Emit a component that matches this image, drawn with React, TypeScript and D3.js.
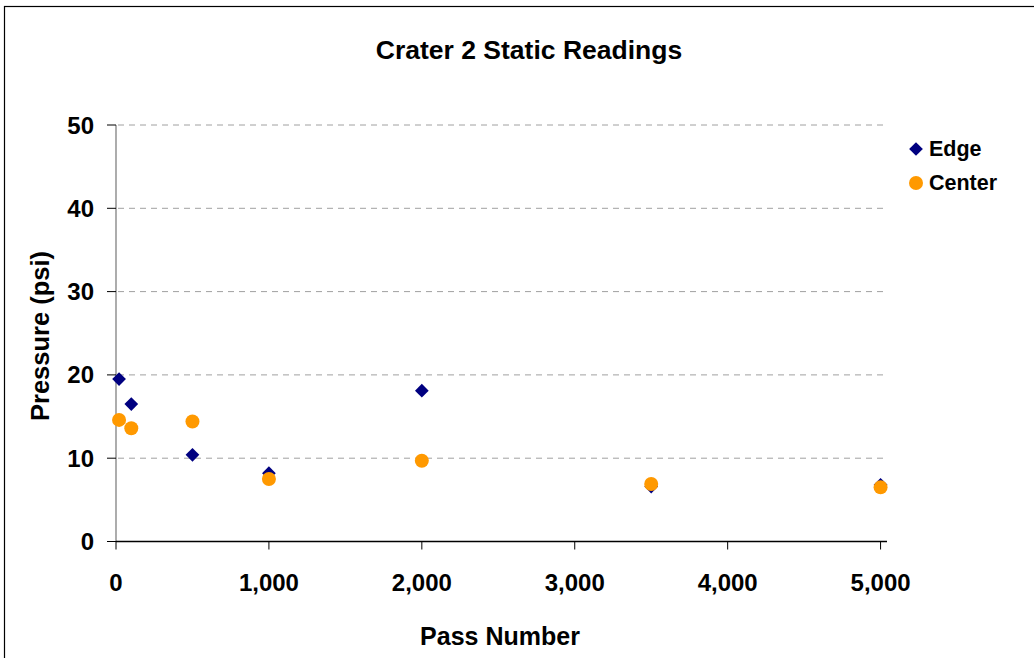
import React from "react";
import * as d3 from "d3";

const passNumbers = [20, 100, 500, 1000, 2000, 3500, 5000];
const edgeValues = [19.5, 16.5, 10.4, 8.2, 18.1, 6.6, 6.8];
const centerValues = [14.6, 13.6, 14.4, 7.5, 9.7, 6.9, 6.5];
const xTicks = [0, 1000, 2000, 3000, 4000, 5000];
const yTicks = [0, 10, 20, 30, 40, 50];
const seriesNames = ["Edge", "Center"];
const seriesColors = ["#000080", "#FF9900"];

const W = 1034;
const H = 658;
const FONT = "'Liberation Sans', Arial, sans-serif";

export default function App() {
  const xMax = 5042;
  const x = d3.scaleLinear().domain([0, xMax]).range([116, 887]);
  const y = d3.scaleLinear().domain([0, 50]).range([541.5, 125]);
  const fmt = d3.format(",");
  const diamond = d3.symbol().type(d3.symbolDiamond2).size(120)();
  const circleR = 7;

  return (
    <svg width={W} height={H} style={{ position: "absolute", left: 0, top: 0, background: "#fff" }} fontFamily={FONT}>
      <rect x={0} y={0} width={W} height={H} fill="#fff" />
      <rect x={4.5} y={6.5} width={W + 20} height={H + 20} fill="none" stroke="#000" strokeWidth={1.2} />
      <text x={529} y={59} textAnchor="middle" fontSize={26.5} fontWeight="bold">Crater 2 Static Readings</text>

      {yTicks.filter(t => t > 0).map(t => (
        <line key={"g" + t} x1={x(0) + 2} x2={x(xMax)} y1={y(t)} y2={y(t)} stroke="#a0a0a0" strokeDasharray="6,5" strokeWidth={1} />
      ))}

      <line x1={x(0)} x2={x(0)} y1={y(50)} y2={y(0)} stroke="#808080" strokeWidth={1.3} />
      {yTicks.map(t => (
        <g key={"y" + t}>
          <line x1={x(0) - 9} x2={x(0)} y1={y(t)} y2={y(t)} stroke="#000" strokeWidth={1} />
          <text x={94} y={y(t) + 8.5} textAnchor="end" fontSize={24} fontWeight="bold">{t}</text>
        </g>
      ))}

      <line x1={x(0)} x2={x(xMax)} y1={y(0)} y2={y(0)} stroke="#000" strokeWidth={1.3} />
      {xTicks.map(t => (
        <g key={"x" + t}>
          <line x1={x(t)} x2={x(t)} y1={y(0)} y2={y(0) + 8} stroke="#000" strokeWidth={1} />
          <text x={x(t)} y={591} textAnchor="middle" fontSize={24} fontWeight="bold">{fmt(t)}</text>
        </g>
      ))}

      <text x={500} y={645} textAnchor="middle" fontSize={25} fontWeight="bold">Pass Number</text>
      <text transform={`translate(49,336) rotate(-90)`} textAnchor="middle" fontSize={25.5} fontWeight="bold">Pressure (psi)</text>

      {passNumbers.map((p, i) => (
        <path key={"e" + i} d={diamond!} transform={`translate(${x(p)},${y(edgeValues[i])})`} fill={seriesColors[0]} />
      ))}
      {passNumbers.map((p, i) => (
        <circle key={"c" + i} cx={x(p)} cy={y(centerValues[i])} r={circleR} fill={seriesColors[1]} />
      ))}

      <path d={diamond!} transform="translate(916,149)" fill={seriesColors[0]} />
      <text x={929} y={156} fontSize={21.5} fontWeight="bold">{seriesNames[0]}</text>
      <circle cx={916} cy={183} r={circleR} fill={seriesColors[1]} />
      <text x={929} y={190} fontSize={21.5} fontWeight="bold">{seriesNames[1]}</text>
    </svg>
  );
}
